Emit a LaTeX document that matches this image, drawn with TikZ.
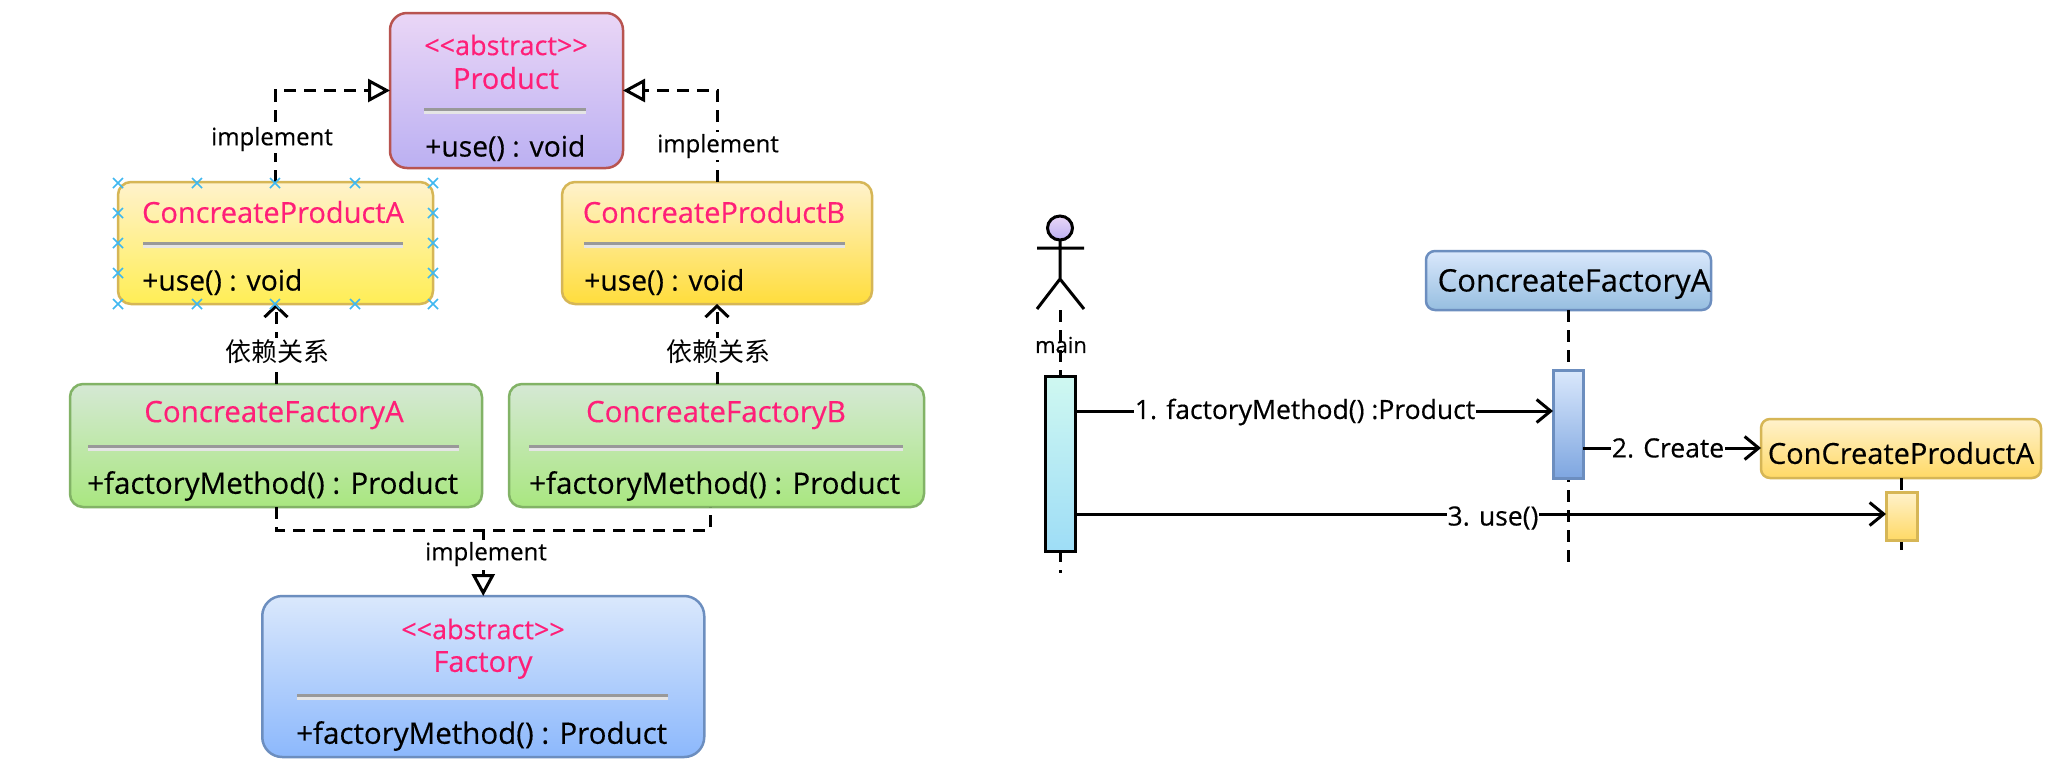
\documentclass[tikz,border=0pt]{standalone}
\usepackage{fontspec}
\usetikzlibrary{arrows.meta}
\setmainfont[FakeBold=0.35]{Open Sans}
\newfontfamily\cjk{Noto Sans CJK SC}
\definecolor{pinktxt}{HTML}{FF1F78}
\definecolor{redstroke}{HTML}{B85450}
\definecolor{yelstroke}{HTML}{D6B656}
\definecolor{grnstroke}{HTML}{82B366}
\definecolor{blustroke}{HTML}{6C8EBF}
\definecolor{crossblue}{HTML}{3FB8F0}
\newcommand{\sepbar}[3]{%
  \fill[black!40] (#1,#3-3) rectangle (#2,#3);
  \fill[black!10] (#1,#3) rectangle (#2,#3+3);}
\tikzset{
  x=1pt,y=-1pt,
  umlbox/.style={draw,line width=2.5pt,outer sep=0pt,inner sep=0pt},
  fsz/.style={font=\fontsize{#1}{#1}\selectfont},
  titletxt/.style={text=pinktxt,inner sep=0pt,fsz=29},
  stereo/.style={titletxt,fsz=27},
  member/.style={text=black,inner sep=0pt,anchor=west,fsz=29.5},
  usemember/.style={member,fsz=28.3},
  lbl/.style={fill=white,inner sep=2pt,fsz=24},
  msglbl/.style={fill=white,inner sep=1pt,fsz=26.5},
  cjklbl/.style={fill=white,inner sep=2pt,font=\fontsize{26}{26}\selectfont\cjk},
  conn/.style={line width=3pt,draw=black},
  dashline/.style={conn,dash pattern=on 12pt off 8pt},
  impl/.style={dashline,-{Triangle[open,length=22pt,width=23pt,line width=3pt]}},
  dep/.style={dashline,-{Straight Barb[length=11pt,width=23pt,line width=3pt]}},
  msg/.style={conn,-{Straight Barb[length=14pt,width=23pt,line width=3pt]}},
  purplebox/.style={umlbox,draw=redstroke,rounded corners=17pt,top color=E1,bottom color=E2},
  yelAbox/.style={umlbox,draw=yelstroke,rounded corners=13pt,top color=Y1,bottom color=Y2},
  yelBbox/.style={umlbox,draw=yelstroke,rounded corners=13pt,top color=Y1,bottom color=Y3},
  grnbox/.style={umlbox,draw=grnstroke,rounded corners=13pt,top color=G1,bottom color=G2},
  blubox/.style={umlbox,draw=blustroke,rounded corners=20pt,top color=B1,bottom color=B2},
  headblue/.style={umlbox,draw=blustroke,rounded corners=9pt,top color=B1,bottom color=B3},
  headyel/.style={umlbox,draw=yelstroke,rounded corners=9pt,top color=Y1,bottom color=Y4},
  actblack/.style={umlbox,draw=black,line width=3pt,top color=C1,bottom color=C2},
  actblue/.style={umlbox,draw=blustroke,line width=3pt,top color=B1,bottom color=B4},
  actyel/.style={umlbox,draw=yelstroke,line width=3pt,top color=Y1,bottom color=Y4},
}
\definecolor{E1}{HTML}{EAD6F6}
\definecolor{E2}{HTML}{BBB0F2}
\definecolor{Y1}{HTML}{FFF2CC}
\definecolor{Y2}{HTML}{FFEE55}
\definecolor{Y3}{HTML}{FFDD3C}
\definecolor{Y4}{HTML}{FFD966}
\definecolor{G1}{HTML}{D5E8D4}
\definecolor{G2}{HTML}{A9E780}
\definecolor{B1}{HTML}{DAE8FC}
\definecolor{B2}{HTML}{8CB8FC}
\definecolor{B3}{HTML}{96BEE0}
\definecolor{B4}{HTML}{7EA6E0}
\definecolor{C1}{HTML}{CFF8F1}
\definecolor{C2}{HTML}{9EDDF6}
\begin{document}
\begin{tikzpicture}
\useasboundingbox (0,0) rectangle (2054,764);
\fill[white] (0,0) rectangle (2054,764);

% class boxes
\node[purplebox,minimum width=233pt,minimum height=155pt] (p) at (506.5,90.5) {};
\node[yelAbox,minimum width=315pt,minimum height=122pt] (pa) at (275.5,243) {};
\node[yelBbox,minimum width=310pt,minimum height=122pt] (pb) at (717,243) {};
\node[grnbox,minimum width=412pt,minimum height=123pt] (fa) at (276,445.5) {};
\node[grnbox,minimum width=415pt,minimum height=123pt] (fb) at (716.5,445.5) {};
\node[blubox,minimum width=442pt,minimum height=161pt] (f) at (483.25,676.5) {};

% Product
\node[stereo] (pt1) at (506,45) {<{}<abstract>{}>};
\node[titletxt] (pt2) at (506,78) {Product};
\sepbar{424}{586}{111}
\node[usemember] (pm) at (425,148) {+use() : void};

% ConcreateProductA
\node[titletxt] (pat) at (273,212) {ConcreateProductA};
\sepbar{143}{403}{245}
\node[usemember] (pam) at (142,282) {+use() : void};
% ConcreateProductB
\node[titletxt] (pbt) at (714,212) {ConcreateProductB};
\sepbar{584}{845}{245}
\node[usemember] (pbm) at (584,282) {+use() : void};

% ConcreateFactoryA
\node[titletxt,fsz=29.5] (fat) at (274,415) {ConcreateFactoryA};
\sepbar{88}{459}{448}
\node[member] (fam) at (87,486) {+factoryMethod() : Product};
% ConcreateFactoryB
\node[titletxt,fsz=29.5] (fbt) at (716,415) {ConcreateFactoryB};
\sepbar{529}{903}{448}
\node[member] (fbm) at (529,486) {+factoryMethod() : Product};

% Factory
\node[stereo] (ft1) at (483,629) {<{}<abstract>{}>};
\node[titletxt] (ft2) at (483,665) {Factory};
\sepbar{297}{668}{697}
\node[member] (fm) at (296,736) {+factoryMethod() : Product};

% class connectors
\draw[impl] (pa.north) |- (p.west);
\draw[impl] (pb.north) |- (p.east);
\draw[dep] (fa.north) -- (fa.north |- pa.south);
\draw[dep] (fb.north-|pb.north) -- (pb.south);
\coordinate (fbout) at (710,507);
\coordinate (trunk) at (483.25,530);
\draw[dashline] (fa.south) |- (trunk) -| (fbout);
\draw[impl] (trunk) -- (f.north);

\node[lbl] (l1) at (272,139) {implement};
\node[lbl] (l2) at (718,146) {implement};
\node[lbl] (l3) at (486,554) {implement};
\node[cjklbl] (l4) at (277,352) {依赖关系};
\node[cjklbl] (l5) at (718,352) {依赖关系};

% connection-point crosses
\foreach \cx in {118,197,275,355,433}{
  \foreach \cy in {183,304}{
    \draw[crossblue,line width=1.6pt] (\cx-5,\cy-5) -- (\cx+5,\cy+5) (\cx-5,\cy+5) -- (\cx+5,\cy-5);
  }}
\foreach \cx in {118,433}{
  \foreach \cy in {213,243,273}{
    \draw[crossblue,line width=1.6pt] (\cx-5,\cy-5) -- (\cx+5,\cy+5) (\cx-5,\cy+5) -- (\cx+5,\cy-5);
  }}

% sequence diagram: heads
\node[headblue,minimum width=285pt,minimum height=59pt] (sf) at (1568.5,280.5) {};
\node[member,anchor=center,fsz=31] (sft) at (1574,284) {ConcreateFactoryA};
\node[headyel,minimum width=280pt,minimum height=59pt] (sp) at (1901,448.5) {};
\node[member,anchor=center,fsz=29] (spt) at (1901,453) {ConCreateProductA};

% actor
\filldraw[draw=black,line width=3pt,top color=E1,bottom color=E2] (1060,228) ellipse (12.5 and 12);
\draw[conn] (1060,240) -- (1060,279) (1037,248) -- (1084,248) (1037,309) -- (1060,279) -- (1084,309);
\coordinate (afoot) at (1060,310);
\coordinate (aend) at (1060,573);
\coordinate (fend) at (1568.5,565);
\coordinate (pend) at (1901,557);

% lifelines
\draw[dashline] (afoot) -- (aend);
\draw[dashline] (sf.south) -- (fend);
\draw[dashline] (sp.south) -- (pend);
\node[inner sep=0pt,fsz=22] (mainlbl) at (1061,345) {main};

% activations
\node[actblack,minimum width=30pt,minimum height=175pt] (a1) at (1060.5,463.5) {};
\node[actblue,minimum width=30pt,minimum height=108pt] (a2) at (1568,424) {};
\node[actyel,minimum width=31pt,minimum height=48pt] (a3) at (1901.5,516) {};

% messages
\coordinate (m1s) at (a1.east |- 0,411);
\coordinate (m1e) at (a2.west |- 0,411);
\draw[msg] (m1s) -- (m1e);
\node[msglbl] (m1l) at (1305,412) {1. factoryMethod() :Product};
\coordinate (m2s) at (a2.east |- 0,448);
\draw[msg] (m2s) -- (m2s -| sp.west);
\node[msglbl] (m2l) at (1668,448) {2. Create};
\coordinate (m3s) at (a1.east |- 0,514);
\coordinate (m3e) at (a3.west |- 0,514);
\draw[msg] (m3s) -- (m3e);
\node[msglbl] (m3l) at (1493,518) {3. use()};
\end{tikzpicture}
\end{document}
